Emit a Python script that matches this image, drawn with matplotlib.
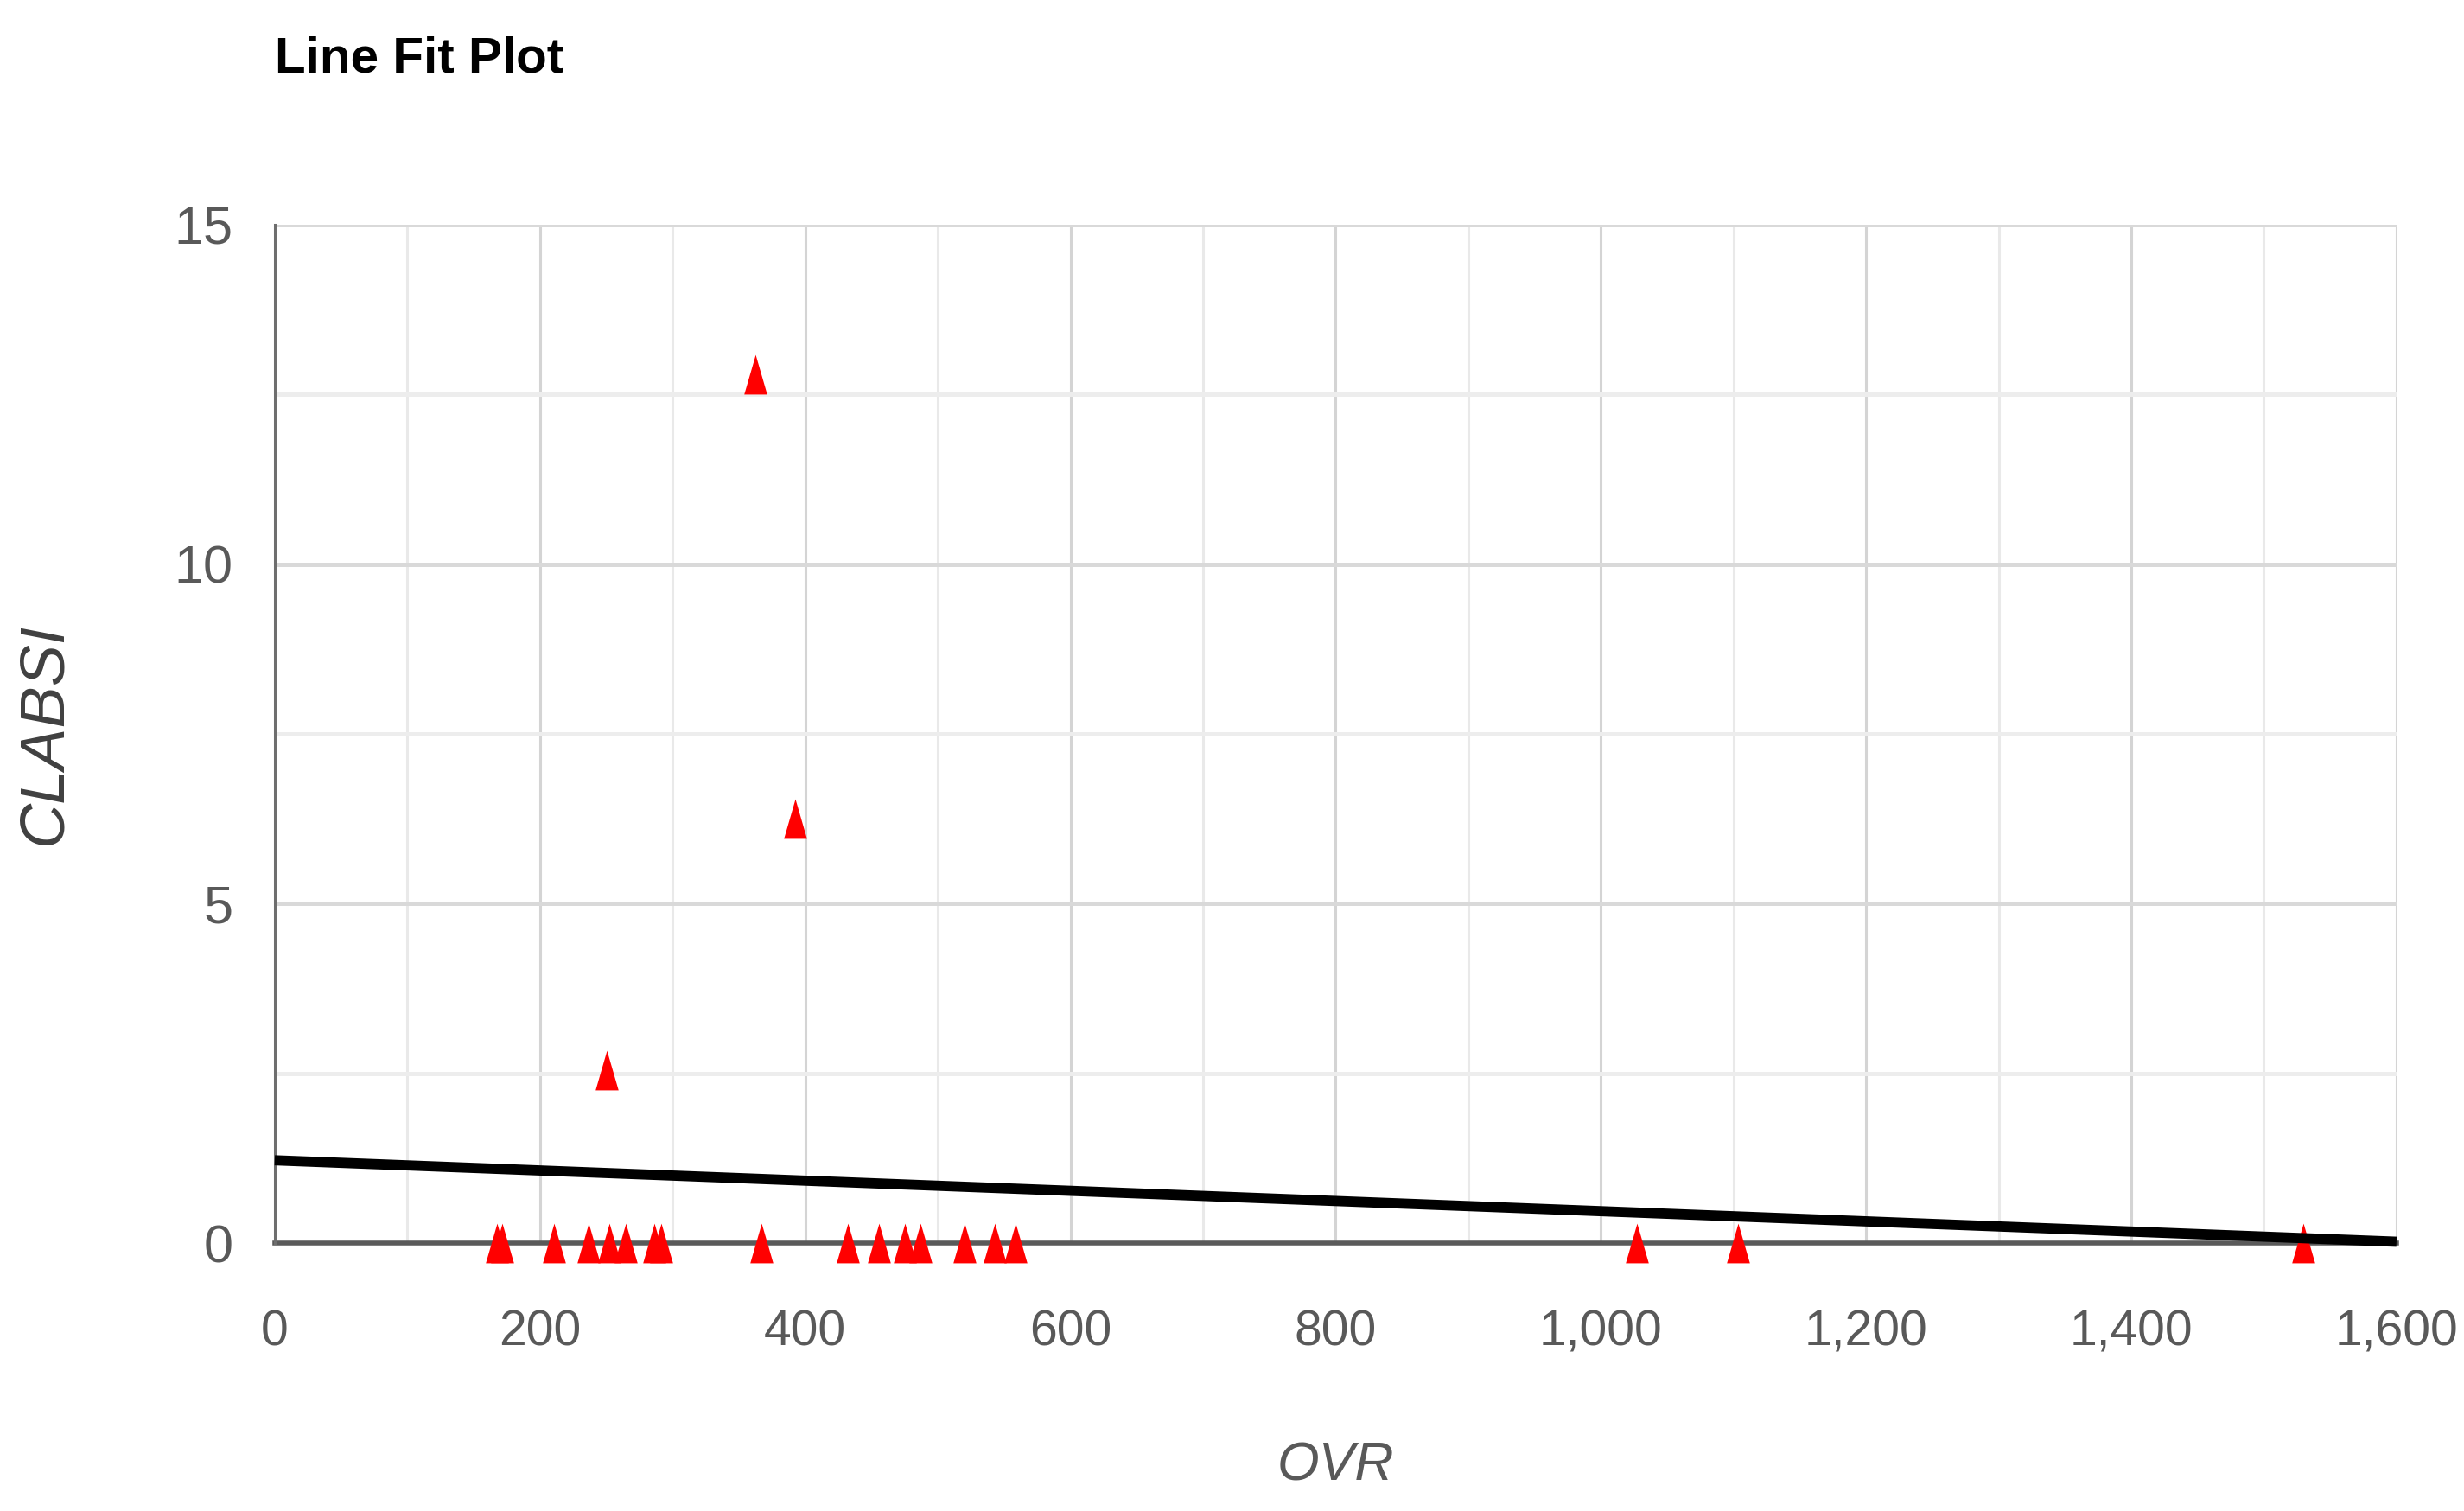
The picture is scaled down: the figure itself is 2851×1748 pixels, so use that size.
import matplotlib
matplotlib.use("Agg")
import matplotlib.pyplot as plt
from matplotlib import font_manager
from matplotlib.path import Path
from matplotlib.ticker import MultipleLocator, FuncFormatter

# ---- data ----
ovr = [167.7, 171.8, 210.5, 236.7, 252.0, 264.6, 286.2, 291.6, 367.3, 432.1,
       455.8, 475.4, 487.0, 520.2, 543.1, 558.5, 1027.0, 1103.7, 1530.0,
       362.5, 392.4, 250.5]
clabsi = [0, 0, 0, 0, 0, 0, 0, 0, 0, 0,
          0, 0, 0, 0, 0, 0, 0, 0, 0,
          12.8, 6.25, 2.55]
fit_x = [0, 1600]
fit_y = [1.22, 0.02]

x_ticks = [0, 200, 400, 600, 800, 1000, 1200, 1400, 1600]
y_ticks = [0, 5, 10, 15]

# ---- fonts ----
avail = {f.name for f in font_manager.fontManager.ttflist}
narrow = "Liberation Sans Narrow" if "Liberation Sans Narrow" in avail else "Liberation Sans"
fam = [narrow, "DejaVu Sans"]

fig = plt.figure(figsize=(28.51, 17.48), dpi=100)
ax = fig.add_axes([0.1115, 0.1773, 0.8611, 0.674])

# tall triangle marker (the reference is vertically stretched)
tri = Path([(-0.58, -1.0), (0.58, -1.0), (0.0, 1.0), (-0.58, -1.0)],
           [Path.MOVETO, Path.LINETO, Path.LINETO, Path.CLOSEPOLY])

ax.plot(ovr, clabsi, linestyle="none", marker=tri, markersize=33,
        color="#ff0000", markeredgewidth=0, zorder=3, clip_on=False)
ax.plot(fit_x, fit_y, color="black", linewidth=8.5, zorder=4,
        solid_capstyle="butt", clip_on=False)

ax.set_xlim(0, 1600)
ax.set_ylim(0, 15)
ax.set_xticks(x_ticks)
ax.set_yticks(y_ticks)
ax.xaxis.set_minor_locator(MultipleLocator(100))
ax.yaxis.set_minor_locator(MultipleLocator(2.5))
ax.xaxis.set_major_formatter(FuncFormatter(lambda v, p: f"{int(v):,}"))

ax.grid(False)
for v in range(100, 1700, 100):
    c = "#d4d4d4" if v % 200 == 0 else "#e9e9e9"
    ax.axvline(v, color=c, linewidth=2.2, zorder=1)
for v in [2.5, 5, 7.5, 10, 12.5, 15]:
    c = "#d9d9d9" if v % 5 == 0 else "#ededed"
    ax.axhline(v, color=c, linewidth=3.6, zorder=1)

for s in ["top", "right"]:
    ax.spines[s].set_visible(False)
ax.spines["left"].set_color("#6e6e6e")
ax.spines["left"].set_linewidth(2.2)
ax.spines["bottom"].set_color("#5a5a5a")
ax.spines["bottom"].set_linewidth(4)
ax.spines["bottom"].set_zorder(2)

ax.tick_params(which="both", length=0)
ax.tick_params(axis="x", pad=55, labelsize=41, labelcolor="#595959")
ax.tick_params(axis="y", pad=35, labelsize=44, labelcolor="#595959")
for lab in ax.get_xticklabels() + ax.get_yticklabels():
    lab.set_family(fam)

fig.text(0.1115, 0.961, "Line Fit Plot", family=fam, fontsize=42,
         fontweight="bold", color="black", ha="left", va="center")
fig.text(0.542, 0.030, "OVR", family=fam, fontsize=45, style="italic",
         color="#595959", ha="center", va="center")
fig.text(0.018, 0.514, "CLABSI", family=["Liberation Sans", "DejaVu Sans"],
         fontsize=52, style="italic", color="#404040", ha="center",
         va="center", rotation=90)

fig.savefig("out.png", dpi=100, facecolor="white")
